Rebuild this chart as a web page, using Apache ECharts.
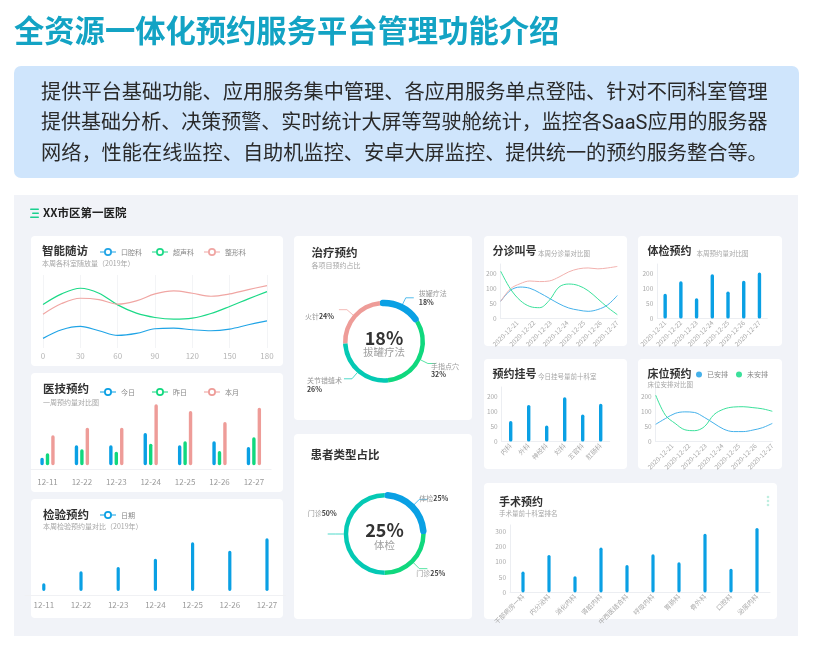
<!DOCTYPE html>
<html>
<head>
<meta charset="utf-8">
<style>
  html, body { margin: 0; padding: 0; background: #fff; }
  #main { width: 814px; height: 651px; }
</style>
<script src="https://cdn.jsdelivr.net/npm/echarts@6/dist/echarts.min.js"></script>
</head>
<body>
<div id="main"></div>
<script>
const FONT = '"Noto Sans CJK SC", "Noto Sans", sans-serif'
const BLUE = '#0aa0e4', GREEN = '#10d87e', PINK = '#ee9c98', TEAL = '#04c9b4'

// 智能随访，每 15 读一个点，标签隔一个显示
const followX = ['0', '15', '30', '45', '60', '75', '90', '105', '120', '135', '150', '165', '180']
const followMouth = [29, 55, 65, 52, 38, 44, 58, 60, 55, 52, 57, 70, 82]
const followEcho = [131, 163, 180, 165, 130, 105, 92, 87, 90, 104, 125, 148, 170]
const followShape = [102, 134, 150, 146, 132, 142, 163, 172, 165, 156, 163, 176, 188]
// 医技预约
const weekDays = ['12-11', '12-22', '12-23', '12-24', '12-25', '12-26', '12-27']
const techToday = [23, 60, 60, 97, 60, 72, 55]
const techYesterday = [36, 48, 41, 65, 72, 43, 84]
const techMonth = [90, 113, 113, 183, 163, 130, 173]
// 检验预约
const labValues = [23, 59, 72, 97, 146, 121, 158]
// 治疗预约
const treatNames = ['拔罐疗法', '手指点穴', '关节错缝术', '火针']
const treatValues = [18, 32, 26, 24]
// 患者类型占比
const patientNames = ['体检', '门诊', '门诊']
const patientValues = [25, 25, 50]
// 右侧小图
const dates = ['2020-12-21', '2020-12-22', '2020-12-23', '2020-12-24', '2020-12-25', '2020-12-26', '2020-12-27']
const halfDays = ['21', '21.5', '22', '22.5', '23', '23.5', '24', '24.5', '25', '25.5', '26', '26.5', '27']
const smallTicks = ['0', '50', '100', '200']
const triageBlue = [57, 93, 104, 100, 85, 67, 49, 35, 28, 24, 30, 45, 76]
const triagePink = [57, 98, 115, 124, 122, 124, 137, 154, 164, 167, 164, 167, 172]
const triageGreen = [156, 98, 60, 40, 36, 60, 104, 114, 109, 92, 65, 37, 13]
const examValues = [82, 123, 67, 146, 89, 125, 152]
const regDepts = ['内科', '外科', '神经科', '妇科', '五官科', '肛肠科']
const regValues = [68, 121, 53, 146, 89, 125]
const bedDone = [57, 76, 93, 98, 96, 80, 60, 41, 33, 33, 38, 46, 60]
const bedTodo = [153, 87, 60, 39, 36, 49, 89, 107, 114, 115, 112, 108, 100]
// 手术预约
const surgeryDepts = ['干部病房一科', '内分泌科', '消化内科', '肾脏内科', '中西医结合科', '呼吸内科', '胃肠科', '骨外科', '口腔科', '泌尿内科']
const surgeryValues = [68, 122, 53, 146, 89, 124, 98, 191, 77, 210]
const surgeryTicks = ['0', '50', '100', '200', '300']

const introLines = [
  '提供平台基础功能、应用服务集中管理、各应用服务单点登陆、针对不同科室管理',
  '提供基础分析、决策预警、实时统计大屏等驾驶舱统计，监控各SaaS应用的服务器',
  '网络，性能在线监控、自助机监控、安卓大屏监控、提供统一的预约服务整合等。'
]

// 带线的圆环图例
const ringIcon = 'path://M0 7H8V9H0ZM24 7H32V9H24ZM8 8A8 8 0 1 1 24 8A8 8 0 1 1 8 8ZM11.5 8A4.5 4.5 0 1 0 20.5 8A4.5 4.5 0 1 0 11.5 8Z'

function card(x, y, w, h) {
  return { type: 'rect', z: -1, shape: { x: x, y: y, width: w, height: h, r: 4 }, style: { fill: '#fff' } }
}
function text(x, y, str, size, color, weight, align, family) {
  return {
    type: 'text', z: 10, x: x, y: y,
    style: { text: str, fontSize: size, fill: color, fontWeight: weight || 'normal', fontFamily: family || FONT, align: align || 'left', verticalAlign: 'middle' }
  }
}
function bar(stripe, x, y, w) {
  return { type: 'rect', z: 5, shape: { x: x, y: y, width: w, height: stripe, r: 1 }, style: { fill: '#1bd08f' } }
}
function dot(x, y) {
  return { type: 'circle', z: 5, shape: { cx: x, cy: y, r: 1.3 }, style: { fill: '#bfeee0' } }
}

const TITLE = '#333', SUB = '#a6a6a6'
const INTRO_FONT = 'Roboto, "Noto Sans CJK SC", sans-serif'
const graphic = [
  { type: 'rect', z: -2, shape: { x: 14, y: 66, width: 785, height: 112, r: 7 }, style: { fill: '#cfe5fc' } },
  { type: 'rect', z: -2, shape: { x: 14, y: 195, width: 784, height: 441 }, style: { fill: '#f1f3f8' } },
  card(31, 236, 252, 130), card(31, 373, 252, 119), card(31, 499, 252, 119),
  card(294, 236, 178, 184), card(294, 434, 178, 185),
  card(484, 236, 143, 110), card(638, 236, 144, 110),
  card(484, 359, 143, 110), card(638, 359, 144, 110),
  card(484, 483, 293, 136),
  text(14, 30, '全资源一体化预约服务平台管理功能介绍', 30.3, '#13a3c4', 'bold'),
  text(41, 94, introLines[0], 20.2, '#2a2a2a', 'normal', 'left', INTRO_FONT),
  text(41, 124, introLines[1], 20.05, '#2a2a2a', 'normal', 'left', INTRO_FONT),
  text(41, 155, introLines[2], 20.2, '#2a2a2a', 'normal', 'left', INTRO_FONT),
  bar(1.5, 30, 208.5, 9), bar(1.5, 32, 212.5, 7), bar(1.5, 30, 216.5, 9),
  text(43, 213, 'XX市区第一医院', 11.5, '#222', 'bold'),
  text(42, 251, '智能随访', 11.5, TITLE, 'bold'),
  text(42, 263, '本周各科室随放量（2019年）', 7, SUB),
  text(43, 389, '医技预约', 11.5, TITLE, 'bold'),
  text(43, 402, '一周预约量对比图', 7, SUB),
  text(43, 515, '检验预约', 11.5, TITLE, 'bold'),
  text(43, 526, '本周检验预约量对比（2019年）', 7, SUB),
  text(311.5, 252.5, '治疗预约', 11.5, TITLE, 'bold'),
  text(311.5, 265, '各项目预约占比', 7, SUB),
  text(384, 338, treatValues[0] + '%', 18, TITLE, 'bold', 'center'),
  text(384, 352, treatNames[0], 10.5, '#a0a0a0', 'normal', 'center'),
  text(310.5, 454.5, '患者类型占比', 11.5, TITLE, 'bold'),
  text(384.5, 530, patientValues[0] + '%', 18, TITLE, 'bold', 'center'),
  text(384.5, 545, patientNames[0], 10.5, '#a0a0a0', 'normal', 'center'),
  text(492.5, 251, '分诊叫号', 11, TITLE, 'bold'),
  text(538, 253.5, '本周分诊量对比图', 6.5, SUB),
  text(647.5, 251, '体检预约', 11, TITLE, 'bold'),
  text(696.5, 253.5, '本周预约量对比图', 6.5, SUB),
  text(492.5, 374, '预约挂号', 11, TITLE, 'bold'),
  text(538, 377, '今日挂号量前十科室', 6.5, SUB),
  text(647.5, 374, '床位预约', 11, TITLE, 'bold'),
  text(647.5, 384.5, '床位安排对比图', 6.5, SUB),
  text(499, 501.5, '手术预约', 11, TITLE, 'bold'),
  text(499, 514, '手术量前十科室排名', 6.5, SUB),
  dot(768, 497), dot(768, 501), dot(768, 505)
]

const legendText = { fontSize: 7, color: '#888', fontFamily: FONT }
const legend = [
  { left: 100, top: 248, data: ['口腔科', '超声科', '整形科'], itemWidth: 16, itemHeight: 8, itemGap: 10, padding: 0, textStyle: legendText, icon: ringIcon, itemStyle: { borderWidth: 0 } },
  { left: 100, top: 388, data: ['今日', '昨日', '本月'], itemWidth: 16, itemHeight: 8, itemGap: 17, padding: 0, textStyle: legendText, icon: ringIcon, itemStyle: { borderWidth: 0 } },
  { left: 100, top: 511, data: ['日期'], itemWidth: 16, itemHeight: 8, padding: 0, textStyle: legendText, icon: ringIcon, itemStyle: { borderWidth: 0 } },
  { left: 696, top: 371, data: ['已安排', '未安排'], itemWidth: 6, itemHeight: 6, itemGap: 8, padding: 0, textStyle: legendText, icon: 'circle', lineStyle: { opacity: 0 } }
]

const grid = [
  { left: 43, top: 275, width: 224, height: 73 },
  { left: 30.3, top: 402, width: 240.8, height: 67.3 },
  { left: 25.2, top: 536, width: 260.4, height: 59.3 },
  { left: 500.7, top: 264, width: 116.6, height: 54.6 },
  { left: 657.3, top: 264, width: 110, height: 54.6 },
  { left: 501.7, top: 387, width: 108, height: 54.6 },
  { left: 655.7, top: 387, width: 116.6, height: 54.6 },
  { left: 510, top: 524.9, width: 260, height: 67.5 }
]

const smallLabel = { fontSize: 6.5, color: '#aaa', fontFamily: FONT, rotate: 45, interval: 0, margin: 3 }
const faint = { show: true, lineStyle: { color: '#eceef2', width: 1 } }

function wideX(gridIndex, data, margin) {
  return { type: 'category', gridIndex: gridIndex, data: data, axisTick: { show: false }, axisLine: { show: true, onZero: false, lineStyle: { color: '#f0f1f4' } }, axisLabel: { fontSize: 8, color: '#999', fontFamily: FONT, interval: 0, margin: margin } }
}
function smallX(gridIndex, data) {
  return { type: 'category', gridIndex: gridIndex, data: data, axisTick: { show: false }, axisLine: faint, axisLabel: smallLabel }
}
// 折线图的日期标签比数据点排得密，标签轴前面留一个空位，数据走隐藏轴
function labelX(gridIndex) {
  return { type: 'category', gridIndex: gridIndex, boundaryGap: false, data: [''].concat(dates), axisTick: { show: false }, axisLine: faint, axisLabel: smallLabel }
}
function hiddenX(gridIndex, data) {
  return { type: 'category', gridIndex: gridIndex, boundaryGap: false, show: false, data: data }
}
function smallY(gridIndex, ticks, max) {
  return {
    type: 'value', gridIndex: gridIndex, min: 0, max: max, interval: 50,
    axisTick: { show: false }, axisLine: faint, splitLine: { show: false },
    axisLabel: {
      fontSize: 6.5, color: '#aaa', fontFamily: FONT, margin: 4, showMaxLabel: false,
      formatter: function (v) { return ticks[v / 50] || '' }
    }
  }
}

const xAxis = [
  {
    type: 'category', gridIndex: 0, boundaryGap: false, data: followX,
    axisTick: { show: false }, axisLine: { show: false },
    axisLabel: { fontSize: 8, color: '#b5b5b5', fontFamily: FONT, margin: 4, interval: 1 },
    splitLine: { show: true, interval: 1, lineStyle: { color: '#f3f4f6' } }
  },
  wideX(1, weekDays, 9),
  wideX(2, weekDays, 6),
  labelX(3), hiddenX(3, halfDays),
  smallX(4, dates),
  smallX(5, regDepts),
  labelX(6), hiddenX(6, halfDays),
  smallX(7, surgeryDepts)
]
const yAxis = [
  { type: 'value', gridIndex: 0, min: 0, max: 220, show: false },
  { type: 'value', gridIndex: 1, min: -12, max: 190, show: false },
  { type: 'value', gridIndex: 2, min: -13, max: 165, show: false },
  smallY(3, smallTicks, 180),
  smallY(4, smallTicks, 180),
  smallY(5, smallTicks, 180),
  smallY(6, smallTicks, 180),
  smallY(7, surgeryTicks, 220)
]

function lineSeries(name, data, color, x, y, width) {
  return {
    name: name, type: 'line', xAxisIndex: x, yAxisIndex: y, data: data, smooth: 0.35,
    showSymbol: false, symbol: 'emptyCircle',
    itemStyle: { color: color }, lineStyle: { color: color, width: width }
  }
}
function barSeries(name, data, color, x, y, width) {
  return {
    name: name, type: 'bar', xAxisIndex: x, yAxisIndex: y, data: data,
    barWidth: width, barGap: '60%',
    itemStyle: { color: color, borderRadius: 2 }
  }
}
function ring(data, colors, center, label, shifts) {
  const items = data.names.map(function (name, i) {
    return { name: name, value: data.values[i], itemStyle: { color: colors[i] } }
  })
  return [{
    type: 'pie', center: center, radius: [36.5, 41], startAngle: data.start, clockwise: true, silent: true,
    data: items,
    label: label,
    labelLine: { show: true, length: 8, length2: 8, lineStyle: { width: 1, opacity: 0.7 } },
    labelLayout: function (p) { return { dx: shifts[p.dataIndex][0], dy: shifts[p.dataIndex][1] } }
  }, {
    type: 'pie', center: center, radius: [35.5, 42], startAngle: data.start, clockwise: true, silent: true, z: 3,
    data: items.map(function (d, i) {
      return { name: d.name, value: d.value, itemStyle: i === 0 ? { color: colors[0], borderRadius: 3 } : { color: 'rgba(0,0,0,0)' } }
    }),
    label: { show: false }, labelLine: { show: false }
  }]
}
const ringRich = {
  n: { fontSize: 7, color: '#999', fontFamily: FONT, lineHeight: 8.5, align: 'left' },
  v: { fontSize: 7, color: '#444', fontWeight: 'bold', fontFamily: FONT, lineHeight: 8.5, align: 'left' }
}

const series = [
  lineSeries('口腔科', followMouth, '#20a4e6', 0, 0, 1.2),
  lineSeries('超声科', followEcho, '#1cd987', 0, 0, 1.2),
  lineSeries('整形科', followShape, '#f0a6a3', 0, 0, 1.2),
  barSeries('今日', techToday, BLUE, 1, 1, 3.4),
  barSeries('昨日', techYesterday, GREEN, 1, 1, 3.4),
  barSeries('本月', techMonth, PINK, 1, 1, 3.4),
  barSeries('日期', labValues, BLUE, 2, 2, 3.2),
  lineSeries('蓝', triageBlue, '#45b1ea', 4, 3, 1),
  lineSeries('粉', triagePink, '#f2b1ae', 4, 3, 1),
  lineSeries('绿', triageGreen, '#3be09b', 4, 3, 1),
  barSeries('体检', examValues, BLUE, 5, 4, 3.4),
  barSeries('挂号', regValues, BLUE, 6, 5, 3.4),
  lineSeries('已安排', bedDone, '#45b1ea', 8, 6, 1),
  lineSeries('未安排', bedTodo, '#3be09b', 8, 6, 1),
  barSeries('手术', surgeryValues, BLUE, 9, 7, 3.2)
].concat(
  ring({ names: treatNames, values: treatValues, start: 96 }, [BLUE, GREEN, TEAL, PINK], [384, 341.7], {
    rich: ringRich,
    formatter: function (p) {
      return p.name === '火针' ? '{n|' + p.name + '}{v|' + p.value + '%}' : '{n|' + p.name + '}\n{v|' + p.value + '%}'
    }
  }, [[0, 0], [-10, 7], [3, 6], [0, 7]]),
  ring({ names: patientNames, values: patientValues, start: 90 }, [BLUE, GREEN, TEAL], [384.7, 534], {
    rich: ringRich,
    formatter: function (p) { return '{n|' + p.name + '}{v|' + p.value + '%}' }
  }, [[-13, -1], [-16, 5], [14, -21]])
)

const myChart = echarts.init(document.getElementById('main'), null, { renderer: 'canvas' })
myChart.setOption({
  animation: false,
  backgroundColor: '#fff',
  textStyle: { fontFamily: FONT },
  graphic: graphic,
  legend: legend,
  grid: grid,
  xAxis: xAxis,
  yAxis: yAxis,
  series: series
})
</script>
</body>
</html>
